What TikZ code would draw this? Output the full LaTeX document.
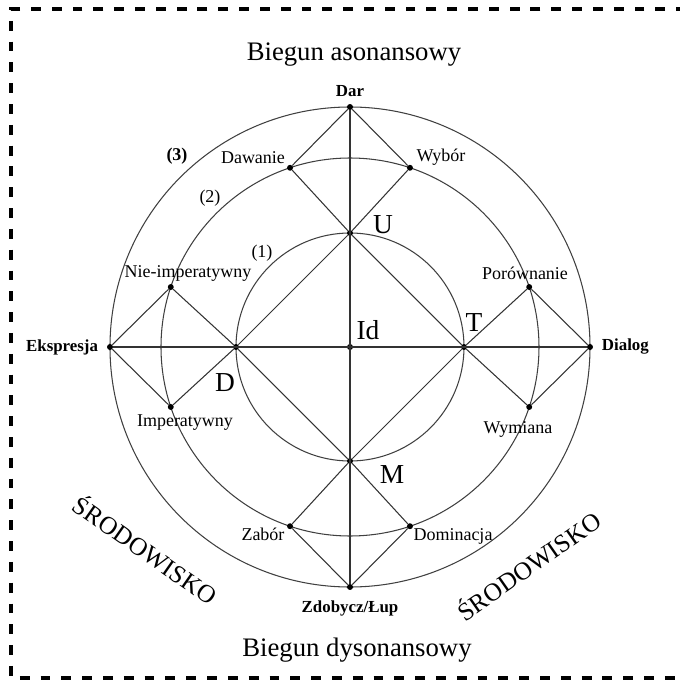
\documentclass[tikz,border=0pt]{standalone}
\usepackage{fontspec}
\setmainfont{Liberation Serif}
\usetikzlibrary{positioning}

\begin{document}
\begin{tikzpicture}[
    x=0.025cm, y=0.025cm,
    ring/.style={black!75, line width=0.75pt},
    link/.style={black!80, line width=0.75pt},
    point/.style={circle, fill=black, inner sep=1.5pt},
    small/.style={font=\fontsize{12.8}{14}\selectfont, inner sep=1pt},
    pole/.style={font=\bfseries\fontsize{12}{14}\selectfont, inner sep=1pt},
    big/.style={font=\fontsize{19.5}{22}\selectfont, inner sep=1pt},
    title/.style={font=\fontsize{19}{22}\selectfont},
    envir/.style={font=\fontsize{18}{20}\selectfont},
    frame/.style={line width=2.4pt, dash pattern=on 7pt off 7.8pt}
]
\useasboundingbox (-350,-333) rectangle (330,347);
\draw[frame] (336,338) -- (-339,338) -- (-339,-331) -- (336,-331);
% three rings
\draw[ring] (0,0) circle (114);
\draw[ring] (0,0) circle (189);
\draw[ring] (0,0) circle (240);
% points
\node[point] (id) at (0,0) {};
\node[point] (dar) at (90:240) {};
\node[point] (dialog) at (0:240) {};
\node[point] (lup) at (270:240) {};
\node[point] (ekspr) at (180:240) {};
\node[point] (u) at (90:114) {};
\node[point] (t) at (0:114) {};
\node[point] (m) at (270:114) {};
\node[point] (d) at (180:114) {};
\node[point] (dawanie) at (108.5:189) {};
\node[point] (wybor) at (71.5:189) {};
\node[point] (porown) at (18.5:189) {};
\node[point] (wymiana) at (-18.5:189) {};
\node[point] (dominacja) at (-71.5:189) {};
\node[point] (zabor) at (-108.5:189) {};
\node[point] (imper) at (198.5:189) {};
\node[point] (nieimp) at (161.5:189) {};
% axes and diamonds
\draw[link] (ekspr) -- (dialog);
\draw[link] (dar) -- (lup);
\draw[link] (u) -- (t) -- (m) -- (d) -- (u);
\foreach \o/\a/\i/\b in {dar/wybor/u/dawanie, dialog/porown/t/wymiana, lup/dominacja/m/zabor, ekspr/nieimp/d/imper}
  \draw[link] (\o) -- (\a) -- (\i) -- (\b) -- (\o);
% labels
\node[pole, above=4pt of dar] (darT) {Dar};
\node[pole, below=6pt of lup] (lupT) {Zdobycz/Łup};
\node[pole, left=5pt of ekspr] (eksprT) {Ekspresja};
\node[pole, right=5pt of dialog] (dialogT) {Dialog};
\node[small] (dawanieT) at (-97,189) {Dawanie};
\node[small] (wyborT) at (91,190) {Wybór};
\node[small] (nieimpT) at (-162,74) {Nie-imperatywny};
\node[small] (porownT) at (175,74) {Porównanie};
\node[small] (imperT) at (-165,-76) {Imperatywny};
\node[small] (wymianaT) at (168,-82) {Wymiana};
\node[small] (zaborT) at (-87,-187) {Zabór};
\node[small] (dominacjaT) at (103,-189) {Dominacja};
\node[big] (uT) at (33,122) {U};
\node[big] (idT) at (18,17) {Id};
\node[big] (tT) at (124,24) {T};
\node[big] (dT) at (-125,-36) {D};
\node[big] (mT) at (42,-128) {M};
\node[small, font=\bfseries\fontsize{12.8}{14}\selectfont] (ring3) at (-173,191) {(3)};
\node[small] (ring2) at (-140,149) {(2)};
\node[small] (ring1) at (-88,94) {(1)};
\node[title] (asonans) at (4,292) {Biegun asonansowy};
\node[title] (dysonans) at (7,-303) {Biegun dysonansowy};
\node[envir, rotate=-35] (envL) at (-204,-202) {ŚRODOWISKO};
\node[envir, rotate=35] (envR) at (178,-218) {ŚRODOWISKO};
\end{tikzpicture}
\end{document}
